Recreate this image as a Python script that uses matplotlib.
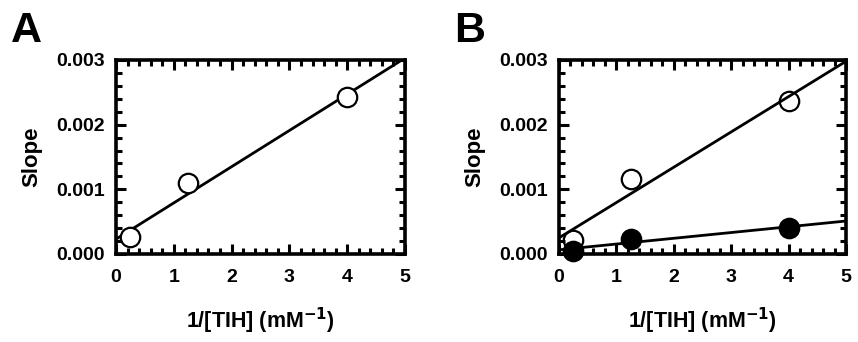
import matplotlib
matplotlib.use("Agg")
import matplotlib.pyplot as plt
from matplotlib.ticker import MultipleLocator, FormatStrFormatter

plt.rcParams['font.family'] = ['Liberation Sans', 'DejaVu Sans']
plt.rcParams['font.weight'] = 'bold'
plt.rcParams['mathtext.default'] = 'bf'

# Data
x_vals = [0.25, 1.25, 4.0]
a_open = [0.000258, 0.001093, 0.002423]
b_open = [0.000216, 0.001155, 0.00237]
b_filled = [0.00005, 0.000227, 0.000407]

# fitted lines (endpoints)
line_x = [0.0, 5.0]
a_line = [0.00023, 0.00303]
b_open_line = [0.00025, 0.00298]
b_filled_line = [0.000065, 0.00051]

fig = plt.figure(figsize=(8.58, 3.42), dpi=100)
axA = fig.add_axes([116/858, 1-254/342, 289/858, 194/342])
axB = fig.add_axes([559/858, 1-254/342, 287/858, 194/342])

def style(ax):
    ax.set_xlim(0, 5)
    ax.set_ylim(0, 0.003)
    ax.xaxis.set_major_locator(MultipleLocator(1))
    ax.xaxis.set_minor_locator(MultipleLocator(0.2))
    ax.yaxis.set_major_locator(MultipleLocator(0.001))
    ax.yaxis.set_minor_locator(MultipleLocator(0.0002))
    ax.yaxis.set_major_formatter(FormatStrFormatter('%.3f'))
    ax.xaxis.set_major_formatter(FormatStrFormatter('%d'))
    for s in ax.spines.values():
        s.set_linewidth(2.6)
    ax.tick_params(which='both', direction='in', top=True, right=True, width=2.2, labelsize=14)
    ax.tick_params(which='major', length=7)
    ax.tick_params(axis='x', which='major', pad=11)
    ax.tick_params(axis='y', which='major', pad=8)
    ax.tick_params(which='minor', length=4)
    for lab in ax.get_xticklabels() + ax.get_yticklabels():
        lab.set_fontweight('bold')
    ax.set_ylabel('Slope', fontsize=16, fontweight='bold', labelpad=10)
    ax.set_xlabel('1/[TIH] (mM$^{-1}$)', fontsize=15.5, fontweight='bold', labelpad=14)

style(axA)
style(axB)

ms = 14
axA.plot(line_x, a_line, color='black', lw=2)
axA.plot(x_vals, a_open, 'o', mfc='white', mec='black', mew=1.6, ms=ms, clip_on=False, zorder=3)

axB.plot(line_x, b_open_line, color='black', lw=2)
axB.plot(line_x, b_filled_line, color='black', lw=2)
axB.plot(x_vals, b_open, 'o', mfc='none', mec='black', mew=1.6, ms=ms, clip_on=False, zorder=3)
axB.plot(x_vals, b_filled, 'o', mfc='black', mec='black', mew=1.6, ms=ms, clip_on=False, zorder=4)

fig.text(11/858, 1-42/342, 'A', fontsize=31, fontweight='bold')
fig.text(454/858, 1-42/342, 'B', fontsize=31, fontweight='bold')

fig.savefig('out.png', dpi=100)
